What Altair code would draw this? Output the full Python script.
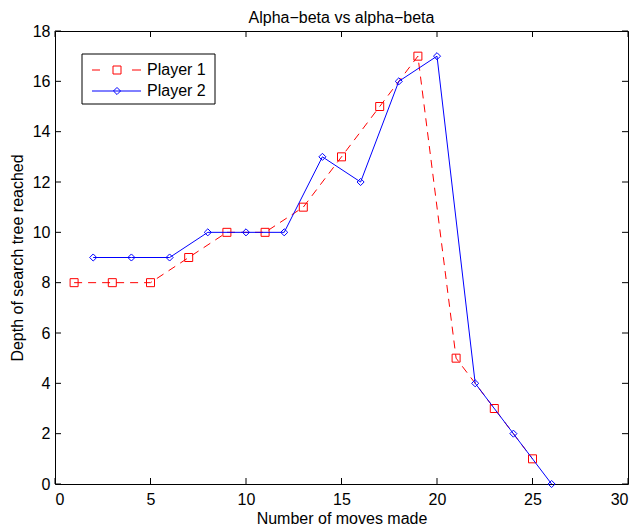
import altair as alt
import pandas as pd

# ---- data ----
p1_moves = [1, 3, 5, 7, 9, 11, 13, 15, 17, 19, 21, 23, 25]
p1_depth = [8, 8, 8, 9, 10, 10, 11, 13, 15, 17, 5, 3, 1]
p2_moves = [2, 4, 6, 8, 10, 12, 14, 16, 18, 20, 22, 24, 26]
p2_depth = [9, 9, 9, 10, 10, 10, 13, 12, 16, 17, 4, 2, 0]
x_ticks = [0, 5, 10, 15, 20, 25, 30]
y_ticks = [0, 2, 4, 6, 8, 10, 12, 14, 16, 18]
series_names = ["Player 1", "Player 2"]

W, H = 573, 453
FONT = "Liberation Sans"
FS = 16
RED = "#ff0000"
BLUE = "#0000ff"
TICK = 6

p1 = pd.DataFrame({"x": p1_moves, "y": p1_depth})
p2 = pd.DataFrame({"x": p2_moves, "y": p2_depth})
xt = pd.DataFrame({"x": x_ticks})
yt = pd.DataFrame({"y": y_ticks})

xs = alt.Scale(domain=[0, 30], nice=False, zero=False)
ys = alt.Scale(domain=[0, 18], nice=False, zero=False)

XAX = alt.Axis(
    values=x_ticks, title="Number of moves made", grid=False, domain=False,
    tickSize=0, labelPadding=7, labelFontSize=FS, titleFontSize=FS,
    labelFont=FONT, titleFont=FONT, titleFontWeight="normal",
    labelColor="black", titleColor="black", titlePadding=3)
YAX = alt.Axis(
    values=y_ticks, title="Depth of search tree reached", grid=False, domain=False,
    tickSize=0, labelPadding=5, labelFontSize=FS, titleFontSize=FS,
    labelFont=FONT, titleFont=FONT, titleFontWeight="normal",
    labelColor="black", titleColor="black", titlePadding=7)
X = alt.X("x:Q", scale=xs, axis=XAX)
Y = alt.Y("y:Q", scale=ys, axis=YAX)

line1 = alt.Chart(p1).mark_line(color=RED, strokeWidth=1, strokeDash=[8, 6]).encode(x=X, y=Y)
pts1 = alt.Chart(p1).mark_point(shape="square", filled=False, color=RED, size=64,
                                strokeWidth=1, opacity=1).encode(x=X, y=Y)
line2 = alt.Chart(p2).mark_line(color=BLUE, strokeWidth=1).encode(x=X, y=Y)
pts2 = alt.Chart(p2).mark_point(shape="diamond", filled=False, color=BLUE, size=50,
                                strokeWidth=1, opacity=1).encode(x=X, y=Y)

# inward ticks on all four sides
tick_b = alt.Chart(xt).mark_rule(color="black", strokeWidth=1).encode(
    x=X, y=alt.value(H), y2=alt.value(H - TICK))
tick_t = alt.Chart(xt).mark_rule(color="black", strokeWidth=1).encode(
    x=X, y=alt.value(0), y2=alt.value(TICK))
tick_l = alt.Chart(yt).mark_rule(color="black", strokeWidth=1).encode(
    y=Y, x=alt.value(0), x2=alt.value(TICK))
tick_r = alt.Chart(yt).mark_rule(color="black", strokeWidth=1).encode(
    y=Y, x=alt.value(W), x2=alt.value(W - TICK))

# manual MATLAB-style legend
leg = pd.DataFrame({"name": series_names})
LX0, LY0 = 27, 23          # box top-left relative to plot area
box = alt.Chart(leg.iloc[[0]]).mark_rect(
    fill="white", stroke="black", strokeWidth=1).encode(
    x=alt.value(LX0), x2=alt.value(LX0 + 133),
    y=alt.value(LY0), y2=alt.value(LY0 + 50))
rowy = [LY0 + 16, LY0 + 37]
leg_line1a = alt.Chart(leg.iloc[[0]]).mark_rule(color=RED, strokeWidth=1).encode(
    x=alt.value(LX0 + 10), x2=alt.value(LX0 + 18), y=alt.value(rowy[0]))
leg_line1b = alt.Chart(leg.iloc[[0]]).mark_rule(color=RED, strokeWidth=1).encode(
    x=alt.value(LX0 + 50), x2=alt.value(LX0 + 59), y=alt.value(rowy[0]))
leg_line2 = alt.Chart(leg.iloc[[1]]).mark_rule(color=BLUE, strokeWidth=1).encode(
    x=alt.value(LX0 + 10), x2=alt.value(LX0 + 59), y=alt.value(rowy[1]))
leg_pt1 = alt.Chart(leg.iloc[[0]]).mark_point(shape="square", filled=False, color=RED,
                                               size=64, strokeWidth=1, opacity=1).encode(
    x=alt.value(LX0 + 35), y=alt.value(rowy[0]))
leg_pt2 = alt.Chart(leg.iloc[[1]]).mark_point(shape="diamond", filled=False, color=BLUE,
                                               size=50, strokeWidth=1, opacity=1).encode(
    x=alt.value(LX0 + 35), y=alt.value(rowy[1]))
leg_txt1 = alt.Chart(leg.iloc[[0]]).mark_text(align="left", baseline="middle", fontSize=FS,
                                               font=FONT, color="black").encode(
    x=alt.value(LX0 + 65), y=alt.value(rowy[0]), text="name:N")
leg_txt2 = alt.Chart(leg.iloc[[1]]).mark_text(align="left", baseline="middle", fontSize=FS,
                                               font=FONT, color="black").encode(
    x=alt.value(LX0 + 65), y=alt.value(rowy[1]), text="name:N")

chart = alt.layer(
    line1, pts1, line2, pts2, tick_b, tick_t, tick_l, tick_r,
    box, leg_line1a, leg_line1b, leg_line2, leg_pt1, leg_pt2, leg_txt1, leg_txt2
).properties(
    width=W, height=H,
    title=alt.TitleParams("Alpha\u2212beta vs alpha\u2212beta", font=FONT, fontSize=FS,
                          fontWeight="normal", color="black", offset=0, dy=3),
    autosize=alt.AutoSizeParams(type="none"),
    padding={"left": 55, "top": 31, "right": 11, "bottom": 43},
).configure_view(stroke="black", strokeWidth=1)

chart.save("out.html", embed_options={"renderer": "svg", "actions": False})
